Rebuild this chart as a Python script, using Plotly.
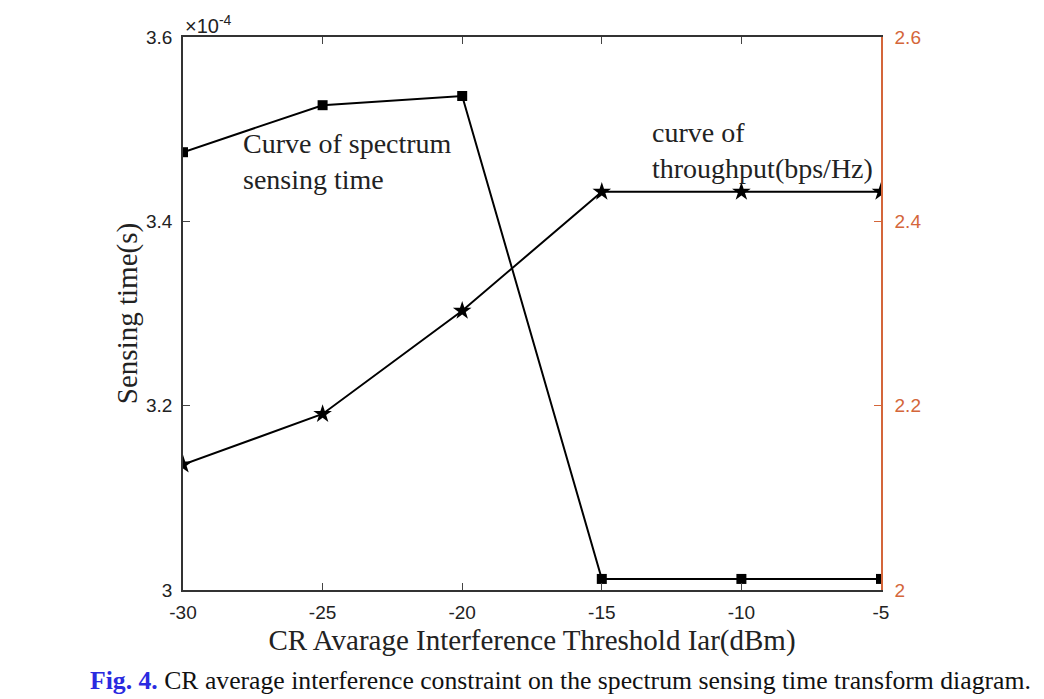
import plotly.graph_objects as go

iar_dbm = [-30, -25, -20, -15, -10, -5]
sensing_time_s = [3.475e-4, 3.526e-4, 3.536e-4, 3.012e-4, 3.012e-4, 3.012e-4]
throughput_bps_hz = [2.136, 2.191, 2.303, 2.432, 2.432, 2.432]

x_ticks = [-30, -25, -20, -15, -10, -5]
x_tick_text = ["-30", "-25", "-20", "-15", "-10", "-5"]
y_ticks = [3.0e-4, 3.2e-4, 3.4e-4, 3.6e-4]
y_tick_text = ["3", "3.2", "3.4", "3.6"]
y2_ticks = [2.0, 2.2, 2.4, 2.6]
y2_tick_text = ["2", "2.2", "2.4", "2.6"]

ORANGE = "#D4663A"
SANS = "Liberation Sans, Arial, sans-serif"
SERIF = "Liberation Serif, Times New Roman, serif"

fig = go.Figure()
fig.add_trace(go.Scatter(
    x=iar_dbm, y=sensing_time_s, mode="lines+markers",
    line=dict(color="black", width=2),
    marker=dict(symbol="square", size=10, color="black"),
    name="Sensing time", yaxis="y", showlegend=False))
fig.add_trace(go.Scatter(
    x=iar_dbm, y=throughput_bps_hz, mode="lines+markers",
    line=dict(color="black", width=2),
    marker=dict(symbol="star", size=14, color="black"),
    name="Throughput", yaxis="y2", showlegend=False))

fig.update_layout(
    width=1044, height=699,
    margin=dict(l=175, r=171, t=29, b=117),
    paper_bgcolor="white", plot_bgcolor="white",
    xaxis=dict(range=[-30, -5], tickvals=x_ticks, ticktext=x_tick_text, ticks="inside", ticklen=7,
               showline=True, linecolor="#333", linewidth=1.5, mirror="ticks",
               showgrid=False, zeroline=False, ticklabelstandoff=4,
               tickfont=dict(family=SANS, size=19, color="#222"),
               title=dict(text="CR Avarage Interference Threshold Iar(dBm)",
                          font=dict(family=SERIF, size=29, color="#222"), standoff=8)),
    yaxis=dict(range=[3.0e-4, 3.6e-4], tickvals=y_ticks, ticktext=y_tick_text,
               ticks="inside", ticklen=7, showline=True, linecolor="#333", linewidth=1.5,
               showgrid=False, zeroline=False, ticklabelstandoff=5,
               tickfont=dict(family=SANS, size=19, color="#222"),
               title=dict(text="Sensing time(s)", font=dict(family=SERIF, size=29, color="#222"),
                          standoff=0)),
    yaxis2=dict(range=[2.0, 2.6], tickvals=y2_ticks, ticktext=y2_tick_text,
                overlaying="y", side="right", ticks="inside", ticklen=7,
                showline=True, linecolor=ORANGE, linewidth=1.5, tickcolor=ORANGE,
                showgrid=False, zeroline=False, ticklabelstandoff=8,
                tickfont=dict(family=SANS, size=19, color=ORANGE)),
)

fig.add_annotation(xref="paper", yref="paper", x=0.0, y=1.0, xanchor="left", yanchor="bottom",
                   text="×10<sup>-4</sup>", showarrow=False,
                   font=dict(family=SANS, size=20, color="#222"), xshift=0, yshift=-2)
fig.add_annotation(xref="x", yref="paper", x=-27.92, y=0.774, xanchor="left", yanchor="middle",
                   text="Curve of spectrum<br>sensing time", showarrow=False, align="left",
                   font=dict(family=SERIF, size=28, color="#222"))
fig.add_annotation(xref="x", yref="paper", x=-13.27, y=0.794, xanchor="left", yanchor="middle",
                   text="curve of<br>throughput(bps/Hz)", showarrow=False, align="left",
                   font=dict(family=SERIF, size=28, color="#222"))
fig.add_annotation(xref="paper", yref="paper", x=(560 - 183) / 698, y=0.0, yshift=-107,
                   xanchor="center", yanchor="bottom",
                   text="<b><span style='color:#2a2ae0'>Fig. 4.</span></b> CR average interference constraint on the spectrum sensing time transform diagram.",
                   showarrow=False, font=dict(family=SERIF, size=25.7, color="#111"))

fig.write_html("out.html")
